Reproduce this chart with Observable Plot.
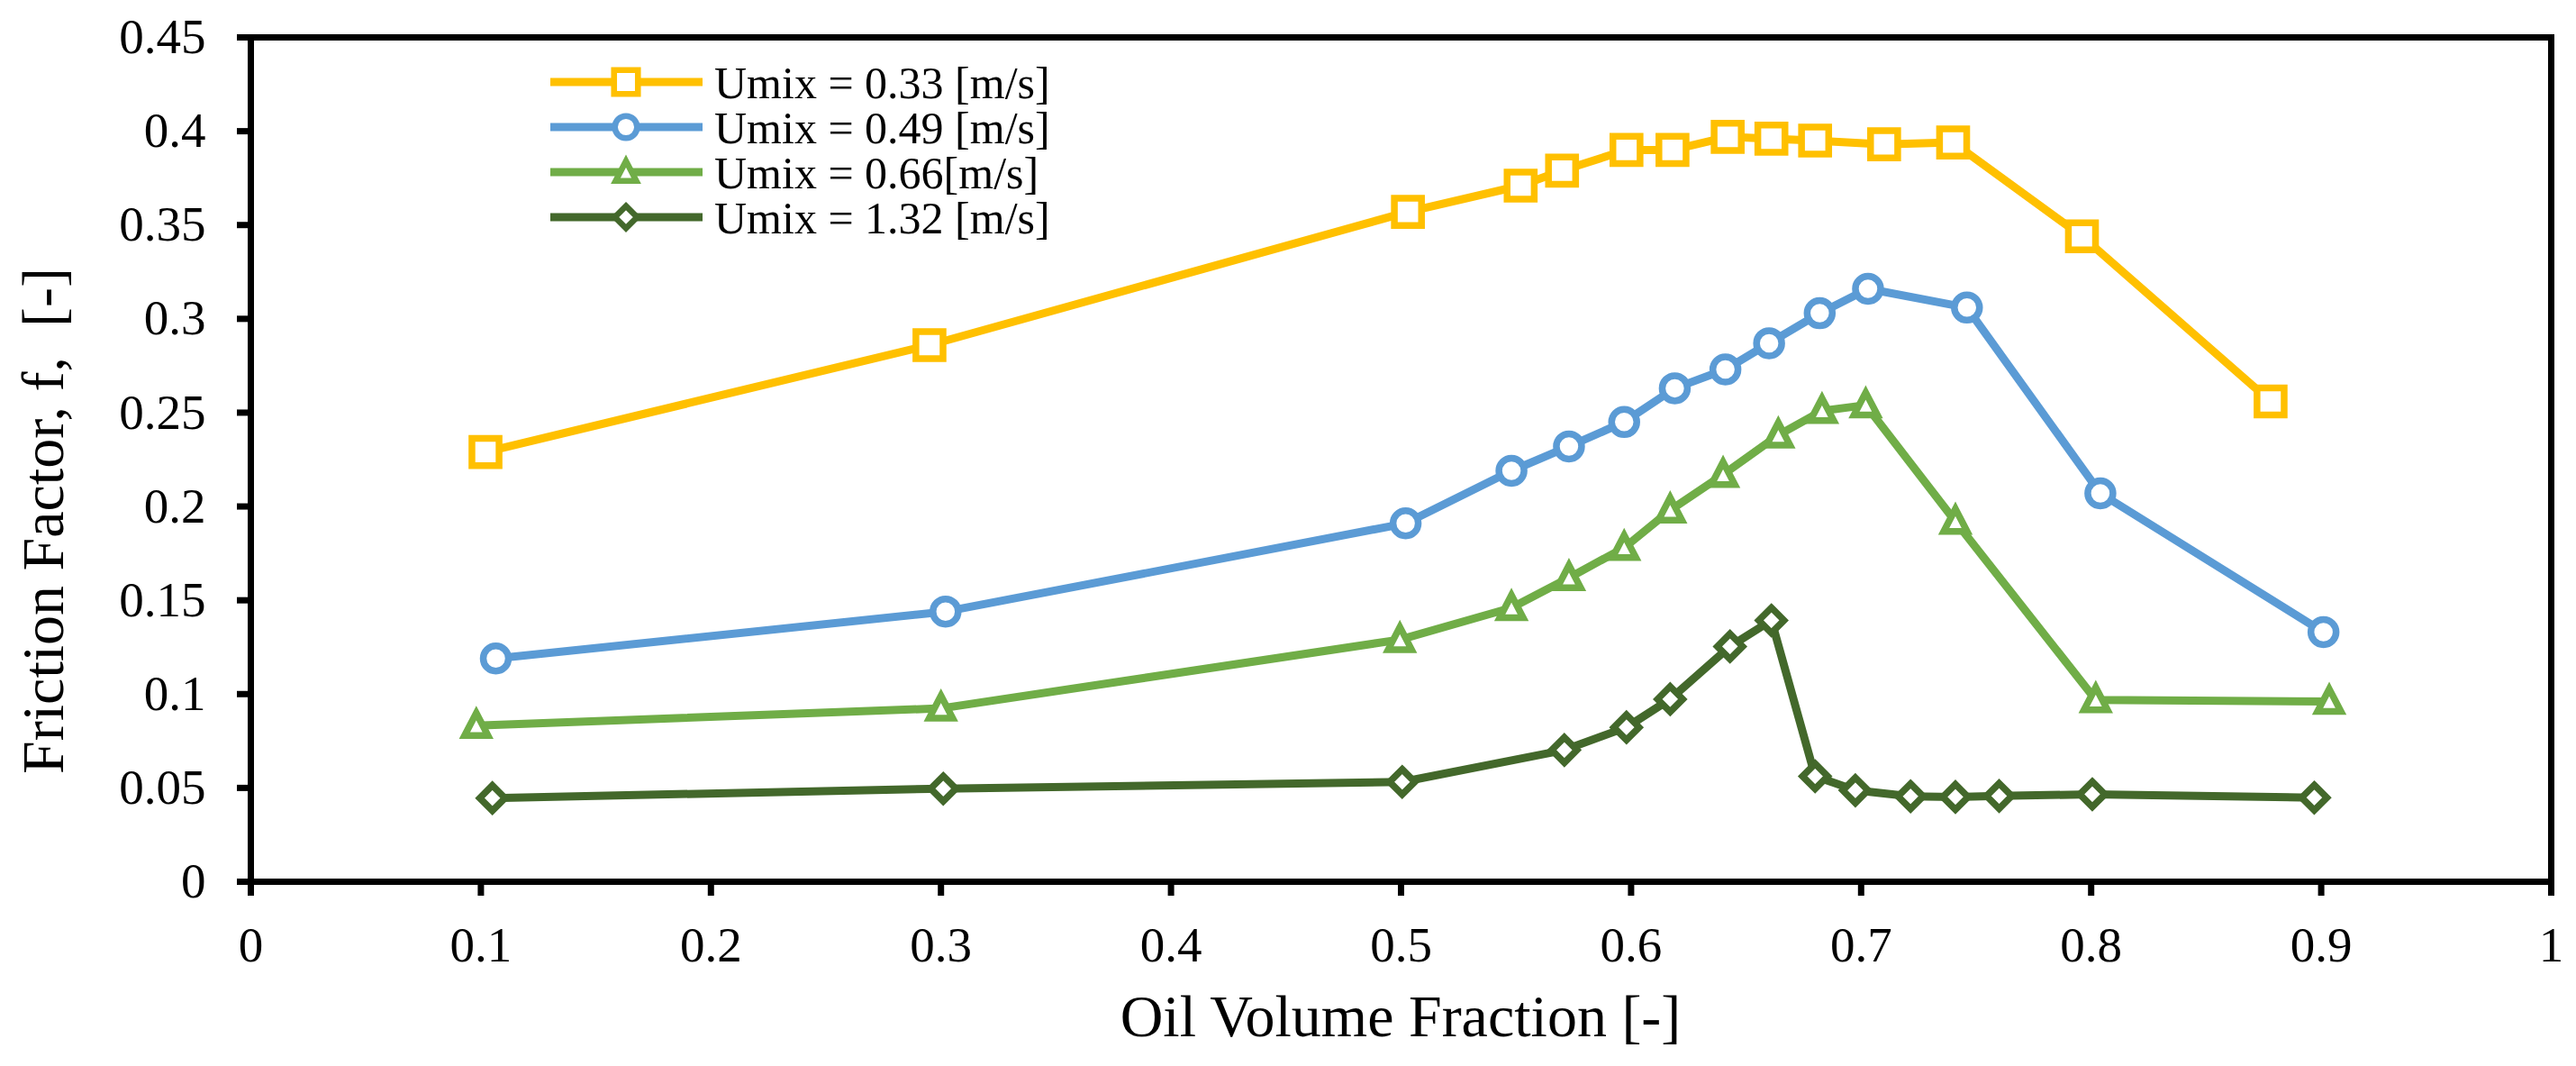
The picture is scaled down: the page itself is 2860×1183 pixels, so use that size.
<!DOCTYPE html>
<html>
<head>
<meta charset="utf-8">
<script src="https://cdn.jsdelivr.net/npm/d3@7"></script>
<script src="https://cdn.jsdelivr.net/npm/@observablehq/plot@0.6"></script>
<style>
  html, body { margin: 0; padding: 0; background: #fff; }
  #chart svg { display: block; }
</style>
</head>
<body>
<div id="chart"></div>
<script>
// ---------- data ----------
const seriesNames = ["Umix = 0.33 [m/s]", "Umix = 0.49 [m/s]", "Umix = 0.66[m/s]", "Umix = 1.32 [m/s]"];

const oil033 = [0.102, 0.295, 0.503, 0.552, 0.570, 0.598, 0.618, 0.642, 0.661, 0.680, 0.710, 0.740, 0.796, 0.878];
const fric033 = [0.229, 0.286, 0.357, 0.371, 0.379, 0.390, 0.390, 0.397, 0.396, 0.395, 0.393, 0.394, 0.344, 0.256];

const oil049 = [0.1065, 0.302, 0.502, 0.548, 0.573, 0.597, 0.619, 0.641, 0.660, 0.682, 0.703, 0.746, 0.804, 0.901];
const fric049 = [0.119, 0.144, 0.191, 0.219, 0.232, 0.245, 0.263, 0.273, 0.287, 0.303, 0.316, 0.306, 0.207, 0.133];

const oil066 = [0.098, 0.300, 0.4995, 0.548, 0.573, 0.597, 0.617, 0.640, 0.664, 0.683, 0.702, 0.741, 0.802, 0.9035];
const fric066 = [0.0832, 0.0924, 0.129, 0.146, 0.162, 0.178, 0.198, 0.217, 0.238, 0.251, 0.254, 0.192, 0.0969, 0.096];

const oil132 = [0.105, 0.301, 0.5005, 0.571, 0.598, 0.617, 0.643, 0.661, 0.680, 0.6975, 0.7215, 0.741, 0.760, 0.8005, 0.897];
const fric132 = [0.0446, 0.0496, 0.0532, 0.0702, 0.0823, 0.0973, 0.1254, 0.1393, 0.0562, 0.0487, 0.0455, 0.0452, 0.0457, 0.0466, 0.0448];

const xTicks = [0, 0.1, 0.2, 0.3, 0.4, 0.5, 0.6, 0.7, 0.8, 0.9, 1];
const yTicks = [0, 0.05, 0.1, 0.15, 0.2, 0.25, 0.3, 0.35, 0.4, 0.45];
const xTitle = "Oil Volume Fraction [-]";
const yTitle = "Friction Factor, f,\u00a0 [-]";

// ---------- styling ----------
const colours = ["#FFC000", "#5B9BD5", "#70AD47", "#43682B"];

// Excel-like markers with fixed geometry (box-centred, not centroid-centred)
const excelTriangle = {
  draw(ctx) { ctx.moveTo(0, -14); ctx.lineTo(13, 11); ctx.lineTo(-13, 11); ctx.closePath(); }
};
const excelDiamond = {
  draw(ctx) { ctx.moveTo(0, -14); ctx.lineTo(14, 0); ctx.lineTo(0, 14); ctx.lineTo(-14, 0); ctx.closePath(); }
};
const symbols = ["square", "circle", excelTriangle, excelDiamond];
const radii = [17, 14, 15, 15];
const d3Symbols = [d3.symbolSquare, d3.symbolCircle, excelTriangle, excelDiamond];
const font = "'Liberation Serif', 'Times New Roman', serif";

const seriesX = [oil033, oil049, oil066, oil132];
const seriesY = [fric033, fric049, fric066, fric132];
const rows = seriesNames.flatMap((name, i) =>
  seriesX[i].map((x, j) => ({series: name, oil: x, f: seriesY[i][j]}))
);

const W = 2860, H = 1183;
const mL = 278, mR = 28, mT = 41, mB = 205;

const marks = [];
seriesNames.forEach((name, i) => {
  const d = rows.filter(r => r.series === name);
  marks.push(Plot.line(d, {x: "oil", y: "f", stroke: colours[i], strokeWidth: 9, strokeLinejoin: "round"}));
  marks.push(Plot.dot(d, {
    x: "oil", y: "f", symbol: symbols[i], r: radii[i],
    fill: "white", stroke: colours[i], strokeWidth: 7.5
  }));
});

const chart = Plot.plot({
  width: W, height: H,
  marginLeft: mL, marginRight: mR, marginTop: mT, marginBottom: mB,
  style: {fontSize: "55px", fontFamily: font, color: "black", background: "white"},
  x: {domain: [0, 1]},
  y: {domain: [0, 0.45]},
  marks: [
    Plot.axisX({ticks: xTicks, tickSize: 16, tickPadding: 33, strokeWidth: 7, label: null, tickFormat: d => String(d)}),
    Plot.axisY({ticks: yTicks, tickSize: 15, tickPadding: 35, strokeWidth: 7, label: null, tickFormat: d => String(d)}),
    ...marks,
    Plot.frame({stroke: "black", strokeWidth: 7})
  ]
});

const svg = d3.select(chart);

// axis titles
svg.append("text")
  .attr("x", (mL + W - mR) / 2).attr("y", 1150)
  .attr("text-anchor", "middle")
  .style("font-family", font).style("font-size", "66px")
  .text(xTitle);
svg.append("text")
  .attr("transform", `translate(70,578) rotate(-90)`)
  .attr("text-anchor", "middle")
  .style("font-family", font).style("font-size", "66px")
  .text(yTitle);

// legend (no box, upper left inside the plot)
const leg = svg.append("g");
seriesNames.forEach((name, i) => {
  const y = 91 + i * 50;
  leg.append("line").attr("x1", 611).attr("x2", 780).attr("y1", y).attr("y2", y)
    .attr("stroke", colours[i]).attr("stroke-width", 9);
  leg.append("path")
    .attr("d", d3.symbol(d3Symbols[i], Math.PI * radii[i] * radii[i])())
    .attr("transform", `translate(695,${y}) scale(0.88)`)
    .attr("fill", "white").attr("stroke", colours[i]).attr("stroke-width", 7.5);
  leg.append("text").attr("x", 793).attr("y", y).attr("dy", "0.35em")
    .attr("text-anchor", "start")
    .style("font-family", font).style("font-size", "50px")
    .text(name);
});

document.getElementById("chart").appendChild(chart);
</script>
</body>
</html>
